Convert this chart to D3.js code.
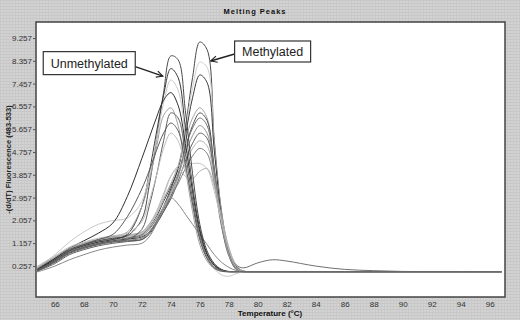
<!DOCTYPE html>
<html>
<head>
<meta charset="utf-8">
<script src="https://cdn.jsdelivr.net/npm/d3@7"></script>
<style>
  body { margin: 0; background: #cfcfcf; }
  text { font-family: "Liberation Sans", Arial, sans-serif; }
</style>
</head>
<body>
<svg id="chart" width="520" height="320"></svg>
<script>
"use strict";

// temperature grid (°C) shared by every trace
const temps = [64.8, 66, 67, 68, 69, 70, 71, 72, 72.5, 73, 73.5, 74, 74.5, 75, 75.5, 76,
    76.5, 77, 77.5, 78, 78.5, 79, 80, 81, 82, 84, 86, 88, 90, 92, 94, 96.8];

const tail = [0.03, 0.03, 0.03, 0.03, 0.03, 0.03, 0.03, 0.03, 0.03, 0.03];

// methylated samples (peak near 76 °C)
const meth1 = [0.10, 0.50, 0.85, 1.05, 1.20, 1.30, 1.38, 1.50, 1.80, 2.20, 2.80, 3.40, 4.10, 5.70, 7.70, 9.10, 8.80, 5.20, 2.40, 0.90, 0.25, 0.06].concat(tail);
const meth2 = [0.15, 0.55, 0.90, 1.10, 1.25, 1.35, 1.42, 1.55, 1.85, 2.30, 2.90, 3.50, 4.20, 5.60, 7.30, 8.30, 8.10, 5.00, 2.30, 0.80, 0.20, 0.05].concat(tail);
const meth3 = [0.05, 0.45, 0.80, 1.00, 1.15, 1.25, 1.32, 1.40, 1.60, 2.00, 2.60, 3.30, 4.10, 5.40, 6.90, 7.80, 7.50, 4.80, 2.20, 0.80, 0.20, 0.04].concat(tail);
const meth4 = [0.20, 0.60, 0.95, 1.15, 1.30, 1.40, 1.48, 1.60, 1.90, 2.30, 2.90, 3.50, 4.20, 5.20, 6.10, 6.50, 6.10, 4.00, 1.90, 0.70, 0.15, 0.03].concat(tail);
const meth5 = [0.08, 0.40, 0.75, 0.95, 1.10, 1.20, 1.25, 1.30, 1.50, 1.90, 2.40, 3.00, 3.80, 4.90, 5.80, 6.30, 6.00, 4.10, 2.00, 0.75, 0.18, 0.04].concat(tail);
const meth6 = [0.12, 0.50, 0.85, 1.05, 1.20, 1.30, 1.35, 1.45, 1.70, 2.10, 2.60, 3.20, 3.90, 4.90, 5.70, 6.10, 5.80, 4.00, 2.00, 0.80, 0.30, 0.18,
    0.38, 0.50, 0.45, 0.25, 0.12, 0.07, 0.04, 0.03, 0.03, 0.03];
const meth7 = [0.18, 0.55, 0.90, 1.10, 1.25, 1.32, 1.40, 1.50, 1.75, 2.10, 2.60, 3.10, 3.80, 4.70, 5.40, 5.80, 5.50, 3.90, 1.90, 0.70, 0.15, 0.03].concat(tail);
const meth8 = [0.05, 0.35, 0.70, 0.90, 1.05, 1.15, 1.22, 1.30, 1.55, 1.95, 2.40, 2.90, 3.60, 4.40, 5.10, 5.50, 5.30, 3.80, 1.90, 0.70, 0.15, 0.03].concat(tail);
const meth9 = [0.22, 0.60, 0.95, 1.15, 1.30, 1.40, 1.45, 1.55, 1.80, 2.15, 2.60, 3.10, 3.70, 4.30, 4.90, 5.20, 5.00, 3.70, 1.90, 0.70, 0.12, 0.03].concat(tail);
const meth10 = [0.10, 0.45, 0.80, 1.00, 1.12, 1.22, 1.28, 1.35, 1.60, 2.00, 2.50, 3.00, 3.50, 4.10, 4.60, 4.90, 4.70, 3.50, 1.80, 0.65, 0.12, 0.03].concat(tail);

// broad / mixed samples
const mixed1 = [0.20, 0.55, 0.90, 1.10, 1.25, 1.35, 1.45, 1.60, 1.90, 2.40, 3.10, 3.80, 4.10, 3.80, 3.70, 4.00, 4.10, 3.40, 2.20, 1.00, 0.30, 0.05].concat(tail);
const mixed2 = [0.15, 0.50, 0.85, 1.05, 1.20, 1.30, 1.40, 1.55, 1.85, 2.30, 3.00, 3.80, 4.20, 4.30, 4.30, 4.30, 4.10, 3.20, 2.00, 0.90, 0.20, 0.02].concat(tail);
const mixed3 = [0.02, 0.25, 0.50, 0.70, 0.88, 1.00, 1.08, 1.15, 1.40, 1.90, 2.50, 2.95, 2.70, 2.30, 1.90, 1.50, 1.10, 0.70, 0.40, 0.20, 0.08, 0.03].concat(tail);

// unmethylated samples (peak near 74 °C)
const unmeth1 = [0.15, 0.55, 0.90, 1.10, 1.25, 1.35, 1.45, 2.10, 3.40, 5.20, 7.10, 8.55, 8.40, 6.40, 3.90, 1.90, 0.85, 0.35, 0.12, 0.04, 0.03, 0.03].concat(tail);
const unmeth2 = [0.10, 0.50, 0.85, 1.05, 1.20, 1.30, 1.50, 2.60, 3.90, 5.50, 7.00, 8.05, 7.70, 5.70, 3.40, 1.70, 0.75, 0.30, 0.10, 0.03, 0.03, 0.03].concat(tail);
const unmeth3 = [0.20, 0.70, 1.20, 1.60, 1.90, 2.05, 2.15, 2.80, 3.80, 5.20, 6.70, 7.60, 7.20, 5.40, 3.20, 1.50, 0.60, 0.15, -0.10, -0.15, -0.05, 0.02].concat(tail);
const unmeth4 = [0.12, 0.55, 0.95, 1.25, 1.55, 1.95, 3.00, 4.50, 5.30, 6.10, 6.80, 7.10, 6.60, 5.10, 3.20, 1.60, 0.70, 0.28, 0.08, 0.03, 0.03, 0.03].concat(tail);
const unmeth5 = [0.18, 0.60, 0.95, 1.15, 1.30, 1.42, 1.60, 2.60, 3.60, 4.90, 6.20, 6.50, 5.80, 4.10, 2.40, 1.10, 0.45, 0.15, 0.04, 0.03, 0.03, 0.03].concat(tail);
const unmeth6 = [0.06, 0.42, 0.78, 0.98, 1.12, 1.22, 1.30, 1.70, 2.60, 3.80, 5.20, 6.30, 6.10, 4.70, 2.90, 1.40, 0.60, 0.22, 0.07, 0.03, 0.03, 0.03].concat(tail);
const unmeth7 = [0.25, 0.65, 1.00, 1.20, 1.35, 1.45, 1.55, 2.00, 2.80, 3.80, 4.90, 5.50, 5.20, 4.10, 2.60, 1.30, 0.55, 0.18, 0.05, 0.03, 0.03, 0.03].concat(tail);
const unmeth8 = [0.10, 0.45, 0.85, 1.10, 1.30, 1.50, 2.20, 3.30, 4.00, 4.80, 5.50, 5.90, 5.60, 4.30, 2.70, 1.30, 0.55, 0.18, 0.05, 0.03, 0.03, 0.03].concat(tail);

const traces = [meth1, meth2, meth3, meth4, meth5, meth6, meth7, meth8, meth9, meth10,
    mixed1, mixed2, mixed3,
    unmeth1, unmeth2, unmeth3, unmeth4, unmeth5, unmeth6, unmeth7, unmeth8];
const shades = ["#484848", "#cfcfcf", "#3c3c3c", "#a5a5a5", "#505050", "#707070", "#909090", "#5e5e5e", "#b2b2b2", "#808080",
    "#b0b0b0", "#c2c2c2", "#888888",
    "#4a4a4a", "#383838", "#c8c8c8", "#303030", "#a0a0a0", "#606060", "#bdbdbd", "#5a5a5a"];

const yTicks = [0.257, 1.157, 2.057, 2.957, 3.857, 4.757, 5.657, 6.557, 7.457, 8.357, 9.257];
const xTicks = [66, 68, 70, 72, 74, 76, 78, 80, 82, 84, 86, 88, 90, 92, 94, 96];

// callouts: label, box corner (temp, value), box size, arrow tip (temp, value)
const callouts = [
    { label: "Unmethylated", t: 65.2, v: 8.72, w: 92, h: 23, tipT: 73.45, tipV: 7.75 },
    { label: "Methylated", t: 78.4, v: 9.14, w: 76, h: 21, tipT: 76.75, tipV: 8.35 }
];

const svg = d3.select("#chart");
const W = 520, H = 320;
const margin = { top: 22, right: 15, bottom: 23, left: 36 };

const x = d3.scaleLinear().domain([64.7, 97.05]).range([margin.left, W - margin.right]);
const y = d3.scaleLinear().domain([-0.97, 9.89]).range([H - margin.bottom, margin.top]);

// grey dotted window background
const defs = svg.append("defs");
const pat = defs.append("pattern")
    .attr("id", "bg")
    .attr("width", 3).attr("height", 3)
    .attr("patternUnits", "userSpaceOnUse");
pat.append("rect").attr("width", 3).attr("height", 3).attr("fill", "#d3d3d3");
pat.append("rect").attr("width", 3).attr("height", 1).attr("fill", "#c6c6c6");
pat.append("rect").attr("width", 1).attr("height", 3).attr("fill", "#c9c9c9");

defs.append("marker")
    .attr("id", "arrow")
    .attr("viewBox", "0 0 10 10")
    .attr("refX", 9).attr("refY", 5)
    .attr("markerWidth", 8).attr("markerHeight", 8)
    .attr("markerUnits", "userSpaceOnUse")
    .attr("orient", "auto")
    .append("path")
    .attr("d", "M1,1 L9,5 L1,9")
    .attr("fill", "none")
    .attr("stroke", "#222")
    .attr("stroke-width", 1.4);

svg.append("rect").attr("width", W).attr("height", H).attr("fill", "url(#bg)");

// plot frame
svg.append("rect")
    .attr("x", margin.left)
    .attr("y", margin.top)
    .attr("width", W - margin.left - margin.right)
    .attr("height", H - margin.top - margin.bottom)
    .attr("fill", "#fff")
    .attr("stroke", "#444")
    .attr("stroke-width", 1.5);

svg.append("text")
    .attr("x", 255).attr("y", 14)
    .attr("text-anchor", "middle")
    .attr("font-size", 7.5)
    .attr("font-weight", "bold")
    .attr("letter-spacing", 1)
    .attr("fill", "#111")
    .text("Melting Peaks");

// axes
const yAxis = svg.append("g")
    .attr("transform", "translate(" + margin.left + ",0)")
    .call(d3.axisLeft(y).tickValues(yTicks).tickSize(3).tickPadding(1).tickFormat(d3.format(".3f")));
const xAxis = svg.append("g")
    .attr("transform", "translate(0," + (H - margin.bottom) + ")")
    .call(d3.axisBottom(x).tickValues(xTicks).tickSize(0).tickPadding(4));
[yAxis, xAxis].forEach(function (g) {
    g.select(".domain").remove();
    g.selectAll("text").attr("font-size", 8).attr("fill", "#333").attr("font-family", "Liberation Sans Narrow, Liberation Sans, Arial");
    g.selectAll("line").attr("stroke", "#555");
});

svg.append("text")
    .attr("x", 270).attr("y", 316)
    .attr("text-anchor", "middle")
    .attr("font-size", 8)
    .attr("font-weight", "bold")
    .attr("fill", "#111")
    .text("Temperature (°C)");

svg.append("text")
    .attr("transform", "translate(11," + ((margin.top + H - margin.bottom) / 2) + ") rotate(-90)")
    .attr("text-anchor", "middle")
    .attr("font-size", 7.5)
    .attr("font-weight", "bold")
    .attr("fill", "#222")
    .text("-(d/dT) Fluorescence (483-533)");

// traces
const line = d3.line()
    .x(function (d, i) { return x(temps[i]); })
    .y(function (d) { return y(d); })
    .curve(d3.curveCatmullRom.alpha(0.5));

svg.append("g")
    .attr("fill", "none")
    .selectAll("path")
    .data(traces)
    .enter()
    .append("path")
    .attr("d", line)
    .attr("stroke", function (d, i) { return shades[i]; })
    .attr("stroke-width", 1);

// callout boxes with arrows
const co = svg.append("g").selectAll("g").data(callouts).enter().append("g");
co.append("line")
    .attr("x1", function (d) { return d.label === "Methylated" ? x(d.t) : x(d.t) + d.w; })
    .attr("y1", function (d) { return y(d.v) + (d.label === "Methylated" ? 13 : 15); })
    .attr("x2", function (d) { return x(d.tipT); })
    .attr("y2", function (d) { return y(d.tipV); })
    .attr("stroke", "#222")
    .attr("stroke-width", 1.4)
    .attr("marker-end", "url(#arrow)");
co.append("rect")
    .attr("x", function (d) { return x(d.t); })
    .attr("y", function (d) { return y(d.v); })
    .attr("width", function (d) { return d.w; })
    .attr("height", function (d) { return d.h; })
    .attr("fill", "#fff")
    .attr("stroke", "#333")
    .attr("stroke-width", 1.2);
co.append("text")
    .attr("x", function (d) { return x(d.t) + d.w / 2; })
    .attr("y", function (d) { return y(d.v) + d.h / 2 + 4.5; })
    .attr("text-anchor", "middle")
    .attr("font-size", 12.5)
    .attr("fill", "#222")
    .text(function (d) { return d.label; });
</script>
</body>
</html>
